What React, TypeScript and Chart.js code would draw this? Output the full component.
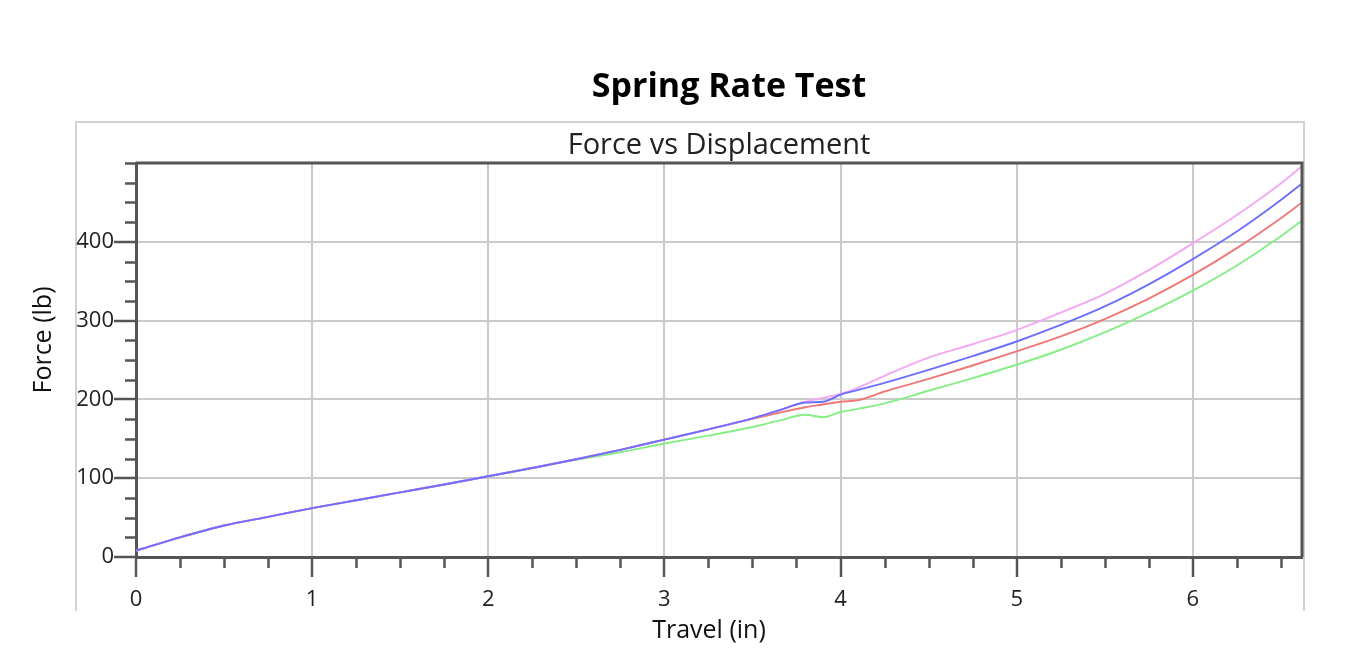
import { useEffect, useRef } from 'react';
import { Chart, registerables } from 'chart.js';
import type { Plugin } from 'chart.js';

Chart.register(...registerables);

// travel positions (in) shared by all four runs
const travel = [
  0, 0.25, 0.5, 0.75, 1, 1.25, 1.5, 1.75, 2, 2.25, 2.5, 2.75, 3, 3.25, 3.5, 3.65, 3.8, 3.9, 4, 4.1,
  4.25, 4.5, 4.75, 5, 5.25, 5.5, 5.75, 6, 6.25, 6.5, 6.62,
];

// force readings (lb)
const forceBlue = [
  8, 25, 40, 51, 62, 72, 82, 92, 102.5, 113, 124, 136, 149, 162, 176, 186, 196, 197, 206, 212,
  221, 237.5, 255, 273.5, 294.5, 318, 346, 378, 413, 453, 474,
];
const forcePink = [
  8, 25, 40, 51, 62, 72, 82, 92, 102.5, 113, 124, 136, 149, 162, 176, 186, 197, 202, 207, 215,
  230, 253, 270, 288, 310, 334, 364, 398, 434, 474, 496,
];
const forceRed = [
  8, 25, 40, 51, 62, 72, 82, 92, 102.5, 113, 124, 136, 149, 162, 175.5, 183, 190, 193.5, 197, 199,
  210, 226, 243, 261, 280, 302, 328, 358, 392, 430, 450,
];
const forceGreen = [
  8, 25, 40, 51, 62, 72, 82, 92, 102.5, 113, 123.5, 133, 144, 154, 165, 173, 180.5, 177.5, 184, 188,
  195, 211, 227, 244, 263, 285, 310, 338, 370, 407, 427,
];

const xTicks = [0, 1, 2, 3, 4, 5, 6];
const yTicks = [0, 100, 200, 300, 400];
const xMax = 6.62;
const yMax = 500;

const palette = {
  green: '#86ee86',
  red: '#f07878',
  pink: '#f4a8f4',
  blue: '#6e6eff',
  grid: '#cacaca',
  axis: '#555555',
  box: '#d2d2d2',
  text: '#222222',
};

const FONT = '"Open Sans", "Noto Sans", sans-serif';

const toPoints = (ys: number[]) => ys.map((y, i) => ({ x: travel[i], y }));

const decorations: Plugin<'line'> = {
  id: 'decorations',
  beforeDraw(chart) {
    const { ctx } = chart;
    ctx.save();
    ctx.fillStyle = '#ffffff';
    ctx.fillRect(0, 0, chart.width, chart.height);
    ctx.strokeStyle = palette.box;
    ctx.lineWidth = 2;
    ctx.beginPath();
    ctx.moveTo(76, 611);
    ctx.lineTo(76, 122);
    ctx.lineTo(1304, 122);
    ctx.lineTo(1304, 611);
    ctx.stroke();
    ctx.restore();
  },
  afterDraw(chart) {
    const { ctx, chartArea } = chart;
    const xs = chart.scales.x;
    const ys = chart.scales.y;
    ctx.save();

    // minor ticks
    ctx.strokeStyle = palette.axis;
    ctx.lineWidth = 2.5;
    ctx.beginPath();
    for (let v = 0.25; v < xMax; v += 0.25) {
      if (Math.abs(v - Math.round(v)) < 1e-6) continue;
      const px = Math.round(xs.getPixelForValue(v)) + 0.5;
      ctx.moveTo(px, chartArea.bottom);
      ctx.lineTo(px, chartArea.bottom + 11);
    }
    for (let v = 25; v <= yMax; v += 25) {
      if (v % 100 === 0 && v !== yMax) continue;
      const py = Math.round(ys.getPixelForValue(v)) + 0.5;
      ctx.moveTo(chartArea.left, py);
      ctx.lineTo(chartArea.left - 11, py);
    }
    ctx.stroke();

    // top and right edges of the plot frame
    ctx.lineWidth = 3;
    ctx.beginPath();
    ctx.moveTo(chartArea.left, chartArea.top);
    ctx.lineTo(chartArea.right, chartArea.top);
    ctx.lineTo(chartArea.right, chartArea.bottom);
    ctx.stroke();

    // titles
    ctx.textAlign = 'center';
    ctx.textBaseline = 'middle';
    ctx.fillStyle = '#000000';
    ctx.font = `bold 34px ${FONT}`;
    ctx.fillText('Spring Rate Test', 729, 87);
    ctx.fillStyle = palette.text;
    ctx.font = `29px ${FONT}`;
    ctx.fillText('Force vs Displacement', (chartArea.left + chartArea.right) / 2, 146);
    ctx.fillStyle = '#111111';
    ctx.font = `25px ${FONT}`;
    ctx.fillText('Travel (in)', 709, 631);
    ctx.translate(44, 340);
    ctx.rotate(-Math.PI / 2);
    ctx.fillText('Force (lb)', 0, 0);
    ctx.restore();
  },
};

export default function App(): JSX.Element {
  const canvasRef = useRef<HTMLCanvasElement | null>(null);

  useEffect(() => {
    if (!canvasRef.current) return;
    const line = (label: string, data: number[], color: string) => ({
      label,
      data: toPoints(data),
      borderColor: color,
      backgroundColor: color,
      borderWidth: 1.9,
      pointRadius: 0,
      cubicInterpolationMode: 'monotone' as const,
      fill: false,
    });

    // first dataset is painted last, so blue ends up on top
    const chart = new Chart(canvasRef.current, {
      type: 'line',
      data: {
        datasets: [
          line('Run 1', forceBlue, palette.blue),
          line('Run 2', forcePink, palette.pink),
          line('Run 3', forceRed, palette.red),
          line('Run 4', forceGreen, palette.green),
        ],
      },
      plugins: [decorations],
      options: {
        animation: false,
        responsive: true,
        maintainAspectRatio: false,
        layout: { padding: { left: 0, top: 163, right: 50, bottom: 0 } },
        plugins: {
          legend: { display: false },
          tooltip: { enabled: false },
        },
        scales: {
          x: {
            type: 'linear',
            min: 0,
            max: xMax,
            afterBuildTicks: (axis) => {
              axis.ticks = xTicks.map((value) => ({ value }));
            },
            afterFit: (axis) => {
              axis.height = 107;
            },
            ticks: {
              color: palette.text,
              font: { family: FONT, size: 22 },
              padding: 10,
              maxRotation: 0,
            },
            grid: {
              color: palette.grid,
              lineWidth: 2,
              tickColor: palette.axis,
              tickLength: 20,
              tickWidth: 2.5,
            },
            border: { color: palette.axis, width: 3 },
          },
          y: {
            type: 'linear',
            min: 0,
            max: yMax,
            afterBuildTicks: (axis) => {
              axis.ticks = yTicks.map((value) => ({ value }));
            },
            afterFit: (axis) => {
              axis.width = 136;
            },
            ticks: {
              color: palette.text,
              font: { family: FONT, size: 22 },
              padding: 0,
            },
            grid: {
              color: palette.grid,
              lineWidth: 2,
              tickColor: palette.axis,
              tickLength: 22,
              tickWidth: 2.5,
            },
            border: { color: palette.axis, width: 3 },
          },
        },
      },
    });

    return () => {
      chart.destroy();
    };
  }, []);

  return (
    <div style={{ position: 'absolute', left: 0, top: 0, width: 1352, height: 664 }}>
      <canvas ref={canvasRef} />
    </div>
  );
}
